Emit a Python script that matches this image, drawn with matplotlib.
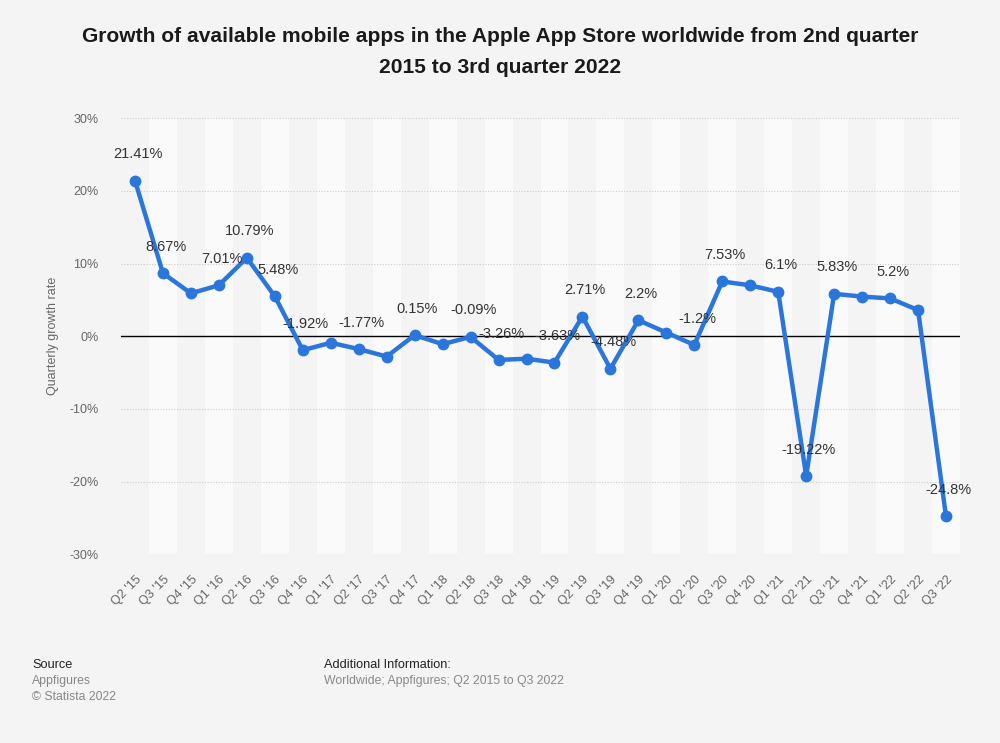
import numpy as np
import matplotlib.pyplot as plt

plt.rcParams['font.family'] = ['Liberation Sans', 'DejaVu Sans']

quarters = ["Q2 '15", "Q3 '15", "Q4 '15", "Q1 '16", "Q2 '16", "Q3 '16", "Q4 '16",
            "Q1 '17", "Q2 '17", "Q3 '17", "Q4 '17", "Q1 '18", "Q2 '18", "Q3 '18",
            "Q4 '18", "Q1 '19", "Q2 '19", "Q3 '19", "Q4 '19", "Q1 '20", "Q2 '20",
            "Q3 '20", "Q4 '20", "Q1 '21", "Q2 '21", "Q3 '21", "Q4 '21", "Q1 '22",
            "Q2 '22", "Q3 '22"]
growth = [21.41, 8.67, 5.9, 7.01, 10.79, 5.48, -1.92, -0.9, -1.77, -2.8, 0.15,
          -1.1, -0.09, -3.26, -3.1, -3.63, 2.71, -4.48, 2.2, 0.5, -1.2, 7.53, 7.0,
          6.1, -19.22, 5.83, 5.45, 5.2, 3.6, -24.8]
# which points carry a value label in the original
show_label = [1, 1, 0, 1, 1, 1, 1, 0, 1, 0, 1, 0, 1, 1, 0, 1, 1, 1, 1, 0, 1,
              1, 0, 1, 1, 1, 0, 1, 0, 1]
yticks = [-30, -20, -10, 0, 10, 20, 30]

BG = "#f4f4f4"
BLUE = "#2a76dd"

fig = plt.figure(figsize=(10, 7.43), dpi=100, facecolor=BG)
ax = fig.add_axes([0.121, 0.254, 0.839, 0.587], facecolor=BG)

x = np.arange(len(quarters))

# alternating column bands
for i in x:
    if i % 2 == 1:
        ax.axvspan(i - 0.5, i + 0.5, color="#fafafa", zorder=0, lw=0)

for t in yticks:
    if t == 0:
        ax.axhline(0, color="#000000", lw=1.0, zorder=1)
    else:
        ax.axhline(t, color="#cccccc", lw=0.8, ls=(0, (1, 1.5)), zorder=1)

ax.plot(x, growth, color=BLUE, lw=3.2, marker="o", markersize=7.5,
        solid_joinstyle="round", zorder=3)

for xi, v, s in zip(x, growth, show_label):
    if s:
        txt = f"{v:g}%"
        ax.annotate(txt, (xi, v), xytext=(2, 19), textcoords="offset points",
                    ha="center", va="center", fontsize=10.5, color="#333333",
                    zorder=4)

ax.set_xlim(-0.5, len(quarters) - 0.5)
ax.set_ylim(-30, 30)
ax.set_yticks(yticks)
ax.set_yticklabels([f"{t}%" for t in yticks])
ax.set_xticks(x)
ax.set_xticklabels(quarters, rotation=45, ha="right", rotation_mode="anchor")
ax.tick_params(axis="both", length=0, labelsize=9, labelcolor="#666666")
ax.tick_params(axis="y", pad=16)
ax.tick_params(axis="x", pad=14)
for sp in ax.spines.values():
    sp.set_visible(False)

ax.set_ylabel("Quarterly growth rate", fontsize=9, color="#666666")
ax.yaxis.set_label_coords(-0.074, 0.5)

fig.text(0.5, 0.93, "Growth of available mobile apps in the Apple App Store worldwide from 2nd quarter\n2015 to 3rd quarter 2022",
         ha="center", va="center", fontsize=15.1, fontweight="bold", color="#1a1a1a",
         linespacing=1.8)

fig.text(0.032, 0.105, "Source", fontsize=9.2, color="#222222", va="center")
fig.text(0.032, 0.083, "Appfigures", fontsize=8.8, color="#888888", va="center")
fig.text(0.032, 0.062, "\u00a9 Statista 2022", fontsize=8.8, color="#888888", va="center")
fig.text(0.324, 0.105, "Additional Information:", fontsize=9.2, color="#222222", va="center")
fig.text(0.324, 0.083, "Worldwide; Appfigures; Q2 2015 to Q3 2022", fontsize=8.8,
         color="#888888", va="center")

fig.savefig("out.png", dpi=100, facecolor=BG)
